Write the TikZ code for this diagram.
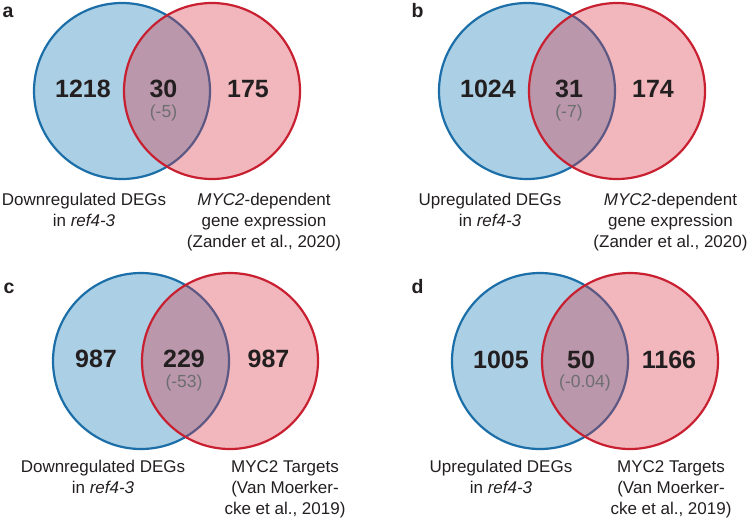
\documentclass[tikz,border=0pt]{standalone}
\usepackage{fontspec}
\setmainfont{Liberation Sans}
\definecolor{setblue}{RGB}{171,207,228}
\definecolor{edgeblue}{RGB}{27,110,168}
\definecolor{setred}{RGB}{215,49,64}
\definecolor{edgered}{RGB}{200,32,48}
\definecolor{ink}{RGB}{35,31,32}
\definecolor{note}{RGB}{109,110,113}
\begin{document}
\begin{tikzpicture}[x=1pt,y=-1pt,
  leftset/.style={circle, inner sep=0pt, minimum size=176pt, line width=2.2pt, draw=edgeblue, fill=setblue},
  rightset/.style={circle, inner sep=0pt, minimum size=176pt, line width=2.2pt, draw=edgered, fill=setred, fill opacity=0.35},
  count/.style={anchor=base, inner sep=0pt, text=ink, font=\fontsize{25}{30}\selectfont\bfseries},
  shiftnote/.style={anchor=base, inner sep=0pt, text=note, font=\fontsize{17.5}{21}\selectfont},
  % multi-line captions: the base anchor sits on the last line's baseline
  setcaption/.style={anchor=base, inner sep=0pt, text=ink, align=center, font=\fontsize{17}{21}\selectfont},
  panel/.style={anchor=base west, inner sep=0pt, text=ink, font=\fontsize{19.5}{22}\selectfont\bfseries}]
\useasboundingbox (0,0) rectangle (750,520);

% ---- panel a ----
\node[leftset]  (aL) at (122,91) {};
\node[rightset] (aR) at (212,91) {};
\node[count] (aN1) at (83,97.5) {1218};
\node[count] (aN2) at (163.5,97.5) {30};
\node[count] (aN3) at (248,97.5) {175};
\node[shiftnote] (aS) at (163.5,117.5) {(-5)};
\node[setcaption] (aC1) at (84,226.5) {Downregulated DEGs\\in \textit{ref4-3}};
\node[setcaption] (aC2) at (264,247.5) {\textit{MYC2}-dependent\\gene expression\\(Zander et al., 2020)};
\node[panel] (aP) at (2.5,17) {a};

% ---- panel b ----
\node[leftset]  (bL) at (527,91) {};
\node[rightset] (bR) at (617,91) {};
\node[count] (bN1) at (488,97.5) {1024};
\node[count] (bN2) at (569,97.5) {31};
\node[count] (bN3) at (653,97.5) {174};
\node[shiftnote] (bS) at (569,117.5) {(-7)};
\node[setcaption] (bC1) at (490,226.5) {Upregulated DEGs\\in \textit{ref4-3}};
\node[setcaption] (bC2) at (670.5,247.5) {\textit{MYC2}-dependent\\gene expression\\(Zander et al., 2020)};
\node[panel] (bP) at (411.5,17) {b};

% ---- panel c ----
\node[leftset]  (cL) at (141,361) {};
\node[rightset] (cR) at (230,361) {};
\node[count] (cN1) at (96,367.5) {987};
\node[count] (cN2) at (184,367.5) {229};
\node[count] (cN3) at (268.5,367.5) {987};
\node[shiftnote] (cS) at (184,387.5) {(-53)};
\node[setcaption] (cC1) at (103,493.5) {Downregulated DEGs\\in \textit{ref4-3}};
\node[setcaption] (cC2) at (285,514.5) {MYC2 Targets\\(Van Moerker-\\cke et al., 2019)};
\node[panel] (cP) at (3.5,293) {c};

% ---- panel d ----
\node[leftset]  (dL) at (540,361) {};
\node[rightset] (dR) at (630,361) {};
\node[count] (dN1) at (501,368) {1005};
\node[count] (dN2) at (581,368) {50};
\node[count] (dN3) at (669,368) {1166};
\node[shiftnote] (dS) at (585,387.5) {(-0.04)};
\node[setcaption] (dC1) at (501,493.5) {Upregulated DEGs\\in \textit{ref4-3}};
\node[setcaption] (dC2) at (671,514.5) {MYC2 Targets\\(Van Moerker-\\cke et al., 2019)};
\node[panel] (dP) at (411.5,293) {d};
\end{tikzpicture}
\end{document}
